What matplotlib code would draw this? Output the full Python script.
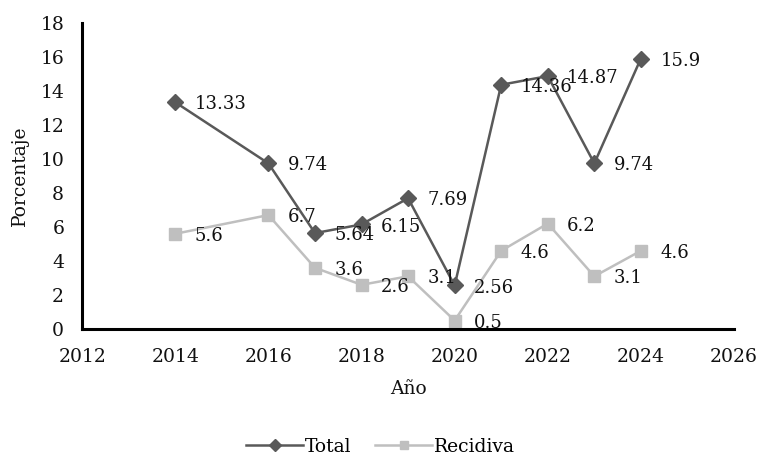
import matplotlib
matplotlib.use("Agg")
import matplotlib.pyplot as plt

plt.rcParams['font.family'] = ['DejaVu Serif']

years = [2014, 2016, 2017, 2018, 2019, 2020, 2021, 2022, 2023, 2024]
total = [13.33, 9.74, 5.64, 6.15, 7.69, 2.56, 14.36, 14.87, 9.74, 15.9]
recidiva = [5.6, 6.7, 3.6, 2.6, 3.1, 0.5, 4.6, 6.2, 3.1, 4.6]
x_ticks = [2012, 2014, 2016, 2018, 2020, 2022, 2024, 2026]
y_ticks = [0, 2, 4, 6, 8, 10, 12, 14, 16, 18]

DARK = "#595959"
LIGHT = "#BFBFBF"
FS = 13.5
FS_LBL = 13

fig = plt.figure(figsize=(7.61, 4.57), dpi=100)
ax = fig.add_axes([0.108, 0.28, 0.8565, 0.67])

ax.plot(years, total, color=DARK, lw=1.8, marker="D", ms=8.5,
        markeredgecolor=DARK, markerfacecolor=DARK, label="Total", zorder=3)
ax.plot(years, recidiva, color=LIGHT, lw=1.8, marker="s", ms=8,
        markeredgecolor=LIGHT, markerfacecolor=LIGHT, label="Recidiva", zorder=2)

for xs, ys in ((years, total), (years, recidiva)):
    for xv, yv in zip(xs, ys):
        ax.annotate(f"{yv:g}", (xv, yv), xytext=(14, -1.5), textcoords="offset points",
                    ha="left", va="center", fontsize=FS_LBL, color="#111111", zorder=4)

ax.set_xlim(2012, 2026)
ax.set_ylim(0, 18)
ax.set_xticks(x_ticks)
ax.set_yticks(y_ticks)
ax.tick_params(axis="both", length=0, labelsize=FS, colors="#111111")
ax.tick_params(axis="x", pad=14)
ax.tick_params(axis="y", pad=13)

for side in ("top", "right"):
    ax.spines[side].set_visible(False)
for side in ("left", "bottom"):
    ax.spines[side].set_color("black")
    ax.spines[side].set_linewidth(2.2)

ax.set_xlabel("Año", fontsize=FS, labelpad=10, color="#111111")
fig.text(20 / 761, 1 - 176 / 457, "Porcentaje", rotation=90, ha="center",
         va="center", fontsize=FS, color="#111111")

fig.legend(loc="center", bbox_to_anchor=(0.5, 0.022), ncol=2, frameon=False,
           fontsize=FS, handlelength=3.0, handletextpad=0.1, columnspacing=1.3,
           markerscale=0.7, borderpad=0.2)

fig.savefig("out.png", dpi=100)
